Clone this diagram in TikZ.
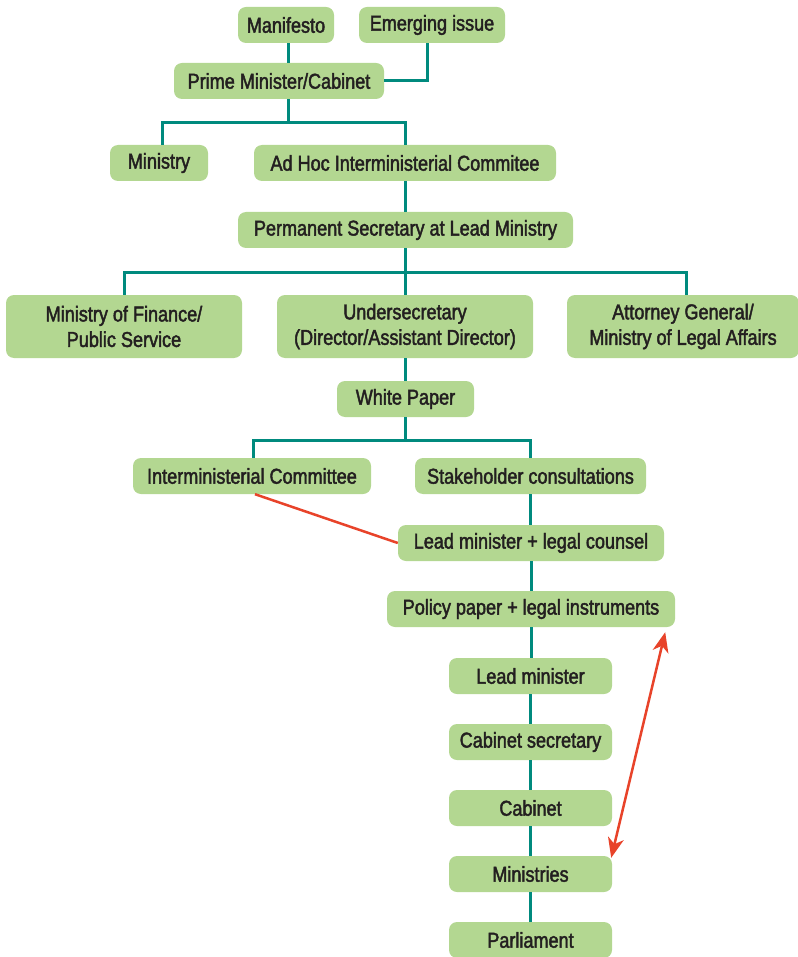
\documentclass[tikz,border=0pt]{standalone}
\usepackage{fontspec}
\setmainfont{Liberation Sans}[FakeStretch=0.84, FakeBold=2]
\usetikzlibrary{arrows.meta}
\definecolor{boxgreen}{RGB}{179,215,145}
\definecolor{teal}{RGB}{0,138,126}
\definecolor{redline}{RGB}{232,67,42}
\definecolor{txt}{RGB}{35,31,32}
\tikzset{
  box/.style={rounded corners=8pt, fill=boxgreen, draw=none, text=txt,
    font=\fontsize{21.5}{25.5}\selectfont, inner sep=0pt, align=center},
  conn/.style={draw=teal, line width=3pt},
  redc/.style={draw=redline, line width=2.5pt},
  tip/.style={}
}
\begin{document}
\begin{tikzpicture}[x=1pt,y=-1pt]
\useasboundingbox (0,0) rectangle (797,957);
% nodes
\node[box, minimum width=96, minimum height=36] (man) at (286,25) {Manifesto};
\node[box, minimum width=146, minimum height=36] (em) at (432,25) {Emerging issue};
\node[box, minimum width=210, minimum height=36] (pm) at (279,81) {Prime Minister/Cabinet};
\node[box, minimum width=98, minimum height=36] (mny) at (159,163) {Ministry};
\node[box, minimum width=302, minimum height=36] (adhoc) at (405,163) {Ad Hoc Interministerial Commitee};
\node[box, minimum width=335, minimum height=36] (ps) at (405.5,230) {Permanent Secretary at Lead Ministry};
\node[box, minimum width=236, minimum height=63] (mof) at (124,326.5) {Ministry of Finance/\\Public Service};
\node[box, minimum width=256, minimum height=63] (us) at (405,326.5) {Undersecretary\\(Director/Assistant Director)};
\node[box, minimum width=232, minimum height=63] (ag) at (683,326.5) {Attorney General/\\Ministry of Legal Affairs};
\node[box, minimum width=137, minimum height=36] (wp) at (405.5,399) {White Paper};
\node[box, minimum width=238, minimum height=36] (imc) at (252,476) {Interministerial Committee};
\node[box, minimum width=231, minimum height=36] (sc) at (530.5,476) {Stakeholder consultations};
\node[box, minimum width=266, minimum height=36] (lmlc) at (531,543) {Lead minister + legal counsel};
\node[box, minimum width=288, minimum height=36] (pp) at (531,609) {Policy paper + legal instruments};
\node[box, minimum width=163, minimum height=36] (lm) at (530.5,676) {Lead minister};
\node[box, minimum width=163, minimum height=36] (cs) at (530.5,742) {Cabinet secretary};
\node[box, minimum width=163, minimum height=36] (cab) at (530.5,808) {Cabinet};
\node[box, minimum width=163, minimum height=36] (mins) at (530.5,874) {Ministries};
\node[box, minimum width=163, minimum height=36] (parl) at (530.5,940) {Parliament};
% bus coordinates
\coordinate (b1) at (288,123);
\coordinate (b2) at (405,273);
\coordinate (b3) at (405,440);
% teal connectors
\begin{scope}[conn]
\draw ([xshift=2]man.south) -- ([xshift=2]man.south |- pm.north);
\draw ([xshift=-5]em.south) |- (pm.east);
\draw (b1 |- pm.south) -- (b1);
\draw (b1) -| ([xshift=3]mny.north);
\draw (b1) -| (adhoc.north);
\draw (adhoc.south) -- (adhoc.south |- ps.north);
\draw (b2 |- ps.south) -- (b2);
\draw (b2) -| (mof.north);
\draw (b2) -| (us.north);
\draw (b2) -| ([xshift=3]ag.north);
\draw (us.south) -- (us.south |- wp.north);
\draw (b3 |- wp.south) -- (b3);
\draw (b3) -| ([xshift=1]imc.north);
\draw (b3) -| (sc.north);
\draw (sc.south) -- (sc.south |- lmlc.north);
\draw (lmlc.south) -- (lmlc.south |- pp.north);
\draw (pp.south) -- (pp.south |- lm.north);
\draw (lm.south) -- (cs.north);
\draw (cs.south) -- (cab.north);
\draw (cab.south) -- (mins.north);
\draw (mins.south) -- (parl.north);
\end{scope}
% red connectors
\draw[redc] ([xshift=3]imc.south) -- (lmlc.west);
\draw[redc, {Stealth[length=20pt,width=16pt,inset=6pt]}-{Stealth[length=20pt,width=16pt,inset=6pt]}]
  ([shift={(-10,5)}]pp.south east) -- ([shift={(-1,2)}]mins.north east);
\end{tikzpicture}
\end{document}
